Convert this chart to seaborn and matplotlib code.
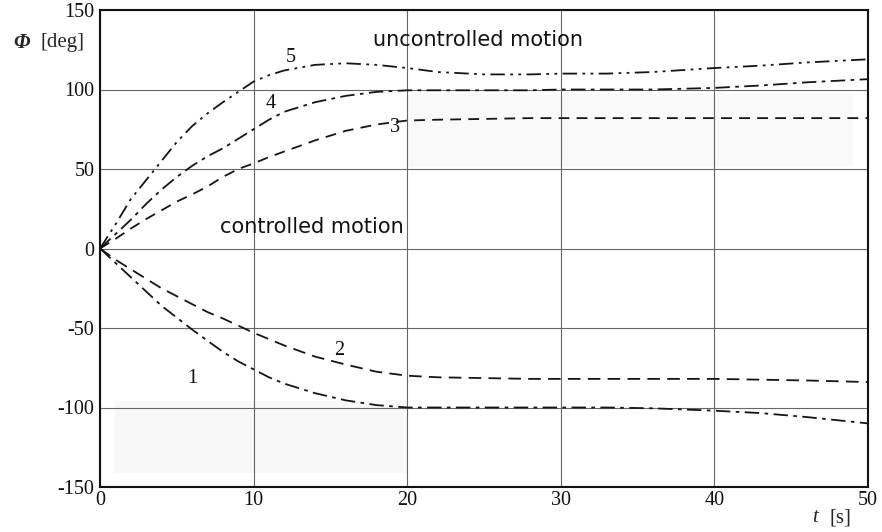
import matplotlib
matplotlib.use("Agg")
import matplotlib.pyplot as plt
import seaborn as sns
import pandas as pd

# ---- data ----
t = [0, 1, 2, 3, 4, 5, 6, 7, 8, 9, 10, 11, 12, 14, 16, 18, 20, 22, 25, 28, 30, 33, 36, 40, 43, 46, 50]
curve1 = [0, -9, -18, -27, -36, -43.5, -51, -58, -65, -71, -76, -81, -85, -91, -95.5, -98.5, -100, -100, -100, -100, -100, -100, -100.5, -102, -103.5, -106, -110]
curve2 = [0, -7, -13, -19, -25, -30, -35, -40, -44, -48.5, -53, -57, -61, -68, -73, -77.5, -80, -81, -81.5, -82, -82, -82, -82, -82, -82.5, -83, -84]
curve3 = [0, 6, 12.5, 18.5, 24, 29.5, 34, 39, 45, 50, 53.5, 57.5, 61, 68, 74, 78, 80.5, 81, 81.5, 82, 82, 82, 82, 82, 82, 82, 82]
curve4 = [0, 9, 18, 28, 37, 45, 52, 58, 63, 69, 75, 81, 86, 92, 96, 98.5, 99.5, 99.5, 99.5, 99.5, 100, 100, 100, 101, 102.5, 104.5, 106.5]
curve5 = [0, 15, 31, 43, 55, 67, 77, 85, 92, 98.5, 105, 109, 112, 115.5, 116.5, 115.5, 113.5, 111, 109.5, 109.5, 110, 110, 111, 113.5, 115, 117, 119]

curve_labels = ["1", "2", "3", "4", "5"]
label_pos_x = [6.0, 15.6, 19.2, 11.1, 12.4]
label_pos_y = [-81.5, -64, 76, 91.5, 120]

xticks = [0, 10, 20, 30, 40, 50]
yticks = [-150, -100, -50, 0, 50, 100, 150]

series = [curve1, curve2, curve3, curve4, curve5]
styles = [(0, (8, 3, 2, 3)),
          (0, (7, 4)),
          (0, (6, 4)),
          (0, (8, 3, 2, 3)),
          (0, (8, 3, 1.5, 3, 1.5, 3))]

sns.set_theme(style="white")
plt.rcParams["font.family"] = ["Liberation Serif", "DejaVu Serif"]

fig = plt.figure(figsize=(8.82, 5.32), dpi=100)
ax = fig.add_axes([100 / 882, 1 - 487 / 532, 768 / 882, 477 / 532])

# faint scan shading
ax.fill_between([1, 20], -141, -96, color="#f8f8f8", zorder=0, lw=0)
ax.fill_between([20, 49], 52, 97, color="#f9f9f9", zorder=0, lw=0)

for y, ls in zip(series, styles):
    df = pd.DataFrame({"t": t, "phi": y})
    sns.lineplot(data=df, x="t", y="phi", ax=ax, color="#151515", lw=1.3,
                 linestyle=ls, zorder=3)

for lab, lx, ly in zip(curve_labels, label_pos_x, label_pos_y):
    ax.text(lx, ly, lab, fontsize=14.5, ha="center", va="center", color="#111111")

ax.text(13.8, 13.5, "controlled motion", fontsize=15, ha="center", va="center",
        family=["DejaVu Sans"], color="#111111")
ax.text(24.6, 131, "uncontrolled motion", fontsize=15, ha="center", va="center",
        family=["DejaVu Sans"], color="#111111")

ax.set_xlim(0, 50)
ax.set_ylim(-150, 150)
ax.set_xticks(xticks)
ax.set_yticks(yticks)
ax.set_xticklabels([str(v) for v in xticks])
ax.set_yticklabels([str(v) for v in yticks])
ax.tick_params(axis="both", length=0, labelsize=14.5, colors="#111111")
ax.tick_params(axis="x", pad=3)
ax.tick_params(axis="y", pad=4)
ax.set_xlabel("")
ax.set_ylabel("")

ax.grid(True, color="#666666", lw=0.8)
ax.set_axisbelow(True)
for sp in ax.spines.values():
    sp.set_visible(True)
    sp.set_color("#111111")
    sp.set_linewidth(1.5)

fig.text(22 / 882, 1 - 43 / 532, "Φ", fontsize=15, fontstyle="italic",
         fontweight="bold", ha="center", va="center")
fig.text(62 / 882, 1 - 43 / 532, "[deg]", fontsize=15, ha="center", va="center")
fig.text(815 / 882, 1 - 518 / 532, "t", fontsize=15, fontstyle="italic",
         ha="center", va="center")
fig.text(840 / 882, 1 - 518 / 532, "[s]", fontsize=15, ha="center", va="center")

fig.savefig("out.png", dpi=100)
